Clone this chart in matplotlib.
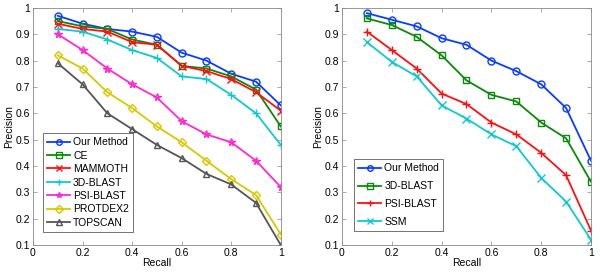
import numpy as np
import matplotlib
matplotlib.use('Agg')
import matplotlib.pyplot as plt

plt.rcParams['font.family'] = ['Liberation Sans', 'DejaVu Sans']
plt.rcParams['font.size'] = 7.5

# ── 데이터 ──
recall = [0.1, 0.2, 0.3, 0.4, 0.5, 0.6, 0.7, 0.8, 0.9, 1.0]

# 왼쪽 패널
L_ours = [0.97, 0.94, 0.92, 0.91, 0.89, 0.83, 0.80, 0.75, 0.72, 0.63]
L_ce = [0.95, 0.93, 0.92, 0.88, 0.86, 0.78, 0.77, 0.74, 0.69, 0.55]
L_mammoth = [0.94, 0.92, 0.91, 0.87, 0.86, 0.78, 0.76, 0.73, 0.68, 0.61]
L_3dblast = [0.92, 0.91, 0.88, 0.84, 0.81, 0.74, 0.73, 0.67, 0.60, 0.48]
L_psiblast = [0.90, 0.84, 0.77, 0.71, 0.66, 0.57, 0.52, 0.49, 0.42, 0.32]
L_protdex2 = [0.82, 0.77, 0.68, 0.62, 0.55, 0.49, 0.42, 0.35, 0.29, 0.14]
L_topscan = [0.79, 0.71, 0.60, 0.54, 0.48, 0.43, 0.37, 0.33, 0.26, 0.10]

# 오른쪽 패널
R_ours = [0.98, 0.955, 0.93, 0.885, 0.86, 0.80, 0.76, 0.71, 0.62, 0.42]
R_3dblast = [0.96, 0.935, 0.89, 0.82, 0.725, 0.67, 0.645, 0.565, 0.505, 0.34]
R_psiblast = [0.91, 0.84, 0.77, 0.675, 0.635, 0.565, 0.52, 0.45, 0.365, 0.155]
R_ssm = [0.87, 0.795, 0.74, 0.63, 0.58, 0.52, 0.475, 0.355, 0.265, 0.12]

xticks = [0, 0.2, 0.4, 0.6, 0.8, 1]
xticklabels = ['0', '0.2', '0.4', '0.6', '0.8', '1']
yticks = [0.1, 0.2, 0.3, 0.4, 0.5, 0.6, 0.7, 0.8, 0.9, 1.0]
yticklabels = ['0.1', '0.2', '0.3', '0.4', '0.5', '0.6', '0.7', '0.8', '0.9', '1']

BLUE, GREEN, RED, CYAN = '#0a3cff', '#0a8a0a', '#ff1010', '#10c8d0'
MAG, YEL, GRAY = '#ff2ad0', '#d8c800', '#555555'

left_series = [
    (L_ours, 'Our Method', BLUE, 'o'),
    (L_ce, 'CE', GREEN, 's'),
    (L_mammoth, 'MAMMOTH', RED, 'x'),
    (L_3dblast, '3D-BLAST', CYAN, '+'),
    (L_psiblast, 'PSI-BLAST', MAG, '*'),
    (L_protdex2, 'PROTDEX2', YEL, 'D'),
    (L_topscan, 'TOPSCAN', GRAY, '^'),
]
right_series = [
    (R_ours, 'Our Method', BLUE, 'o'),
    (R_3dblast, '3D-BLAST', GREEN, 's'),
    (R_psiblast, 'PSI-BLAST', RED, '+'),
    (R_ssm, 'SSM', CYAN, 'x'),
]

fig = plt.figure(figsize=(6.0, 2.72), dpi=100)
axL = fig.add_axes([0.055, 0.099, 0.413, 0.872])
axR = fig.add_axes([0.570, 0.099, 0.415, 0.872])


def draw(ax, series, leg_box, spacing):
    for y, lab, c, m in series:
        ms = 5.0
        if m == 'D':
            ms = 4.5
        if m in ('x', '+', '*'):
            ms = 5.5
        ax.plot(recall, y, color=c, lw=1.3, marker=m, ms=ms, mfc='none', mec=c,
                mew=1.0, label=lab)
    ax.set_xlim(0, 1); ax.set_ylim(0.1, 1.0)
    ax.set_xticks(xticks); ax.set_xticklabels(xticklabels)
    ax.set_yticks(yticks); ax.set_yticklabels(yticklabels)
    ax.tick_params(direction='in', length=3, width=0.5, top=True, right=True,
                   labelsize=7.5, pad=2, color='#888888')
    for s in ax.spines.values():
        s.set_color('#888888'); s.set_linewidth(0.6)
    ax.set_xlabel('Recall', fontsize=7.5, labelpad=0)
    ax.set_ylabel('Precision', fontsize=7.5, labelpad=1)
    leg = ax.legend(loc='lower left', bbox_to_anchor=leg_box, fontsize=7.5,
                    frameon=True, fancybox=False, edgecolor='#333333',
                    handlelength=2.2, handletextpad=0.3, borderpad=0.4,
                    labelspacing=spacing, borderaxespad=0, markerscale=0.8)
    leg.get_frame().set_linewidth(0.6)


draw(axL, left_series, (0.04, 0.055), 0.33)
draw(axR, right_series, (0.048, 0.059), 0.75)

fig.savefig('out.png', dpi=100)
